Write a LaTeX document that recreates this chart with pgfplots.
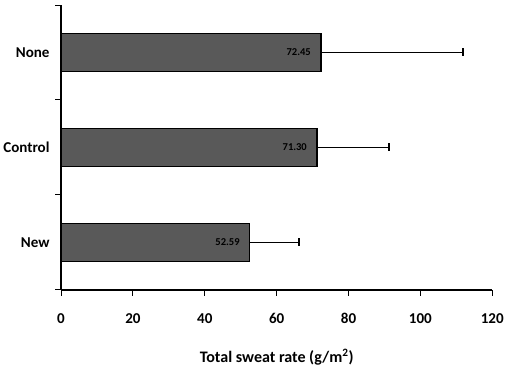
\documentclass[border=0pt]{standalone}
\usepackage{pgfplots}
\pgfplotsset{compat=1.18}
\usepackage{fontspec}
\setmainfont{Carlito}
\begin{document}
\begin{tikzpicture}
\begin{axis}[
  scale only axis,
  width=430pt, height=284pt,
  xbar, bar width=38pt,
  xmin=0, xmax=120, ymin=-0.5, ymax=2.5,
  axis lines=left,
  axis line style={line width=1.6pt,-},
  xtick={0,20,40,60,80,100,120},
  ytick={-0.5,0.5,1.5,2.5},
  yticklabels={},
  extra y ticks={0,1,2},
  extra y tick labels={New,Control,None},
  extra y tick style={major tick length=0pt},
  tick style={black, line width=1pt},
  major tick length=6pt,
  tick align=outside,
  /pgf/number format/assume math mode=true,
  ticklabel style={font=\fontsize{15}{17}\selectfont\bfseries},
  xticklabel style={yshift=-14pt},
  yticklabel style={xshift=-8pt},
  xlabel={Total sweat rate (g/m\textsuperscript{2})},
  xlabel style={font=\fontsize{16}{18}\selectfont\bfseries, yshift=-18pt},
  nodes near coords,
  point meta=explicit symbolic,
  every node near coord/.append style={anchor=east, font=\fontsize{10.5}{12}\selectfont\bfseries, black, xshift=-6pt},
]
\addplot[fill=black!65, draw=black, line width=1.4pt,
  error bars/.cd, x dir=plus, x explicit,
  error bar style={line width=1.5pt, black},
  error mark options={rotate=90, mark size=4pt, line width=1.5pt, black}]
  coordinates {
  (52.5,0) +- (13.7,0) [52.59]
  (71.2,1) +- (20.1,0) [71.30]
  (72.3,2) +- (39.6,0) [72.45]
};
\end{axis}
\path ([yshift=5pt]current axis.north);
\end{tikzpicture}
\end{document}
